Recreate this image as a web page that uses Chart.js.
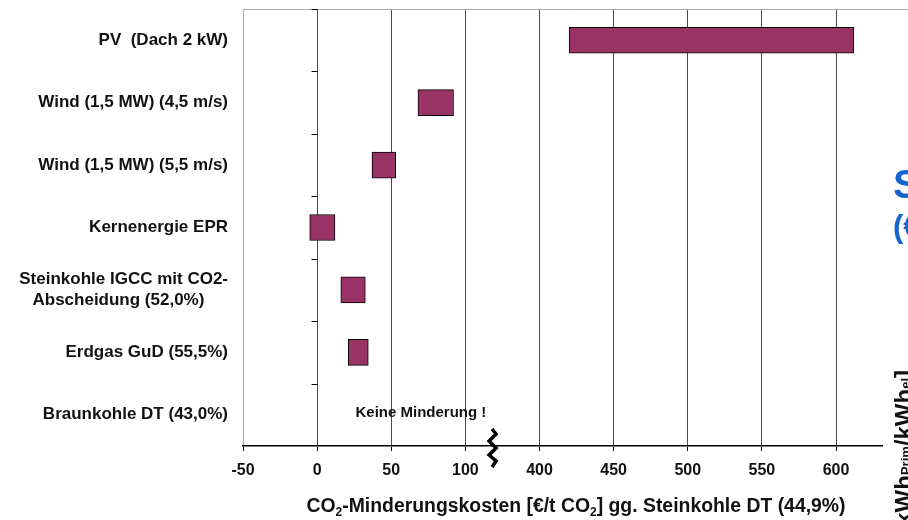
<!DOCTYPE html>
<html>
<head>
<meta charset="utf-8">
<script src="https://cdn.jsdelivr.net/npm/chart.js@4"></script>
<style>
  html, body { margin: 0; padding: 0; background: #fff; overflow: hidden; }
  #wrap { position: relative; width: 908px; height: 520px; overflow: hidden; }
  #chart { position: absolute; left: 0; top: 0; }
  .side { position: absolute; font-family: "Liberation Sans", Arial, sans-serif; font-weight: bold; white-space: nowrap; }
  .blue { color: #1466cc; }
  .unit { writing-mode: vertical-rl; transform: rotate(180deg); font-size: 24px; color: #111; }
  .unit sub { font-size: 13px; vertical-align: -2px; }
</style>
</head>
<body>
<div id="wrap">
  <canvas id="chart" width="908" height="520"></canvas>
  <div class="side blue" style="left:893px; top:162px; font-size:40px;">S</div>
  <div class="side blue" style="left:893px; top:209px; font-size:31px;">(€</div>
  <div class="side unit" style="left:890px; top:370px;">[kWh<sub>Prim</sub>/kWh<sub>el</sub>]</div>
</div>
<script>
// CO2-Minderungskosten gegenüber Steinkohle DT (44,9%)
const categories = [
    "PV  (Dach 2 kW)",
    "Wind (1,5 MW) (4,5 m/s)",
    "Wind (1,5 MW) (5,5 m/s)",
    "Kernenergie EPR",
    ["Steinkohle IGCC mit CO2-", "Abscheidung (52,0%)     "],
    "Erdgas GuD (55,5%)",
    "Braunkohle DT (43,0%)",
];
const costMin = [420, 68, 37, -5, 16, 21, null];
const costMax = [612, 92, 53, 12, 32.5, 34.5, null];
const tickValues = [-50, 0, 50, 100, 400, 450, 500, 550, 600];
const noReductionText = "Keine Minderung !";
const noReductionAt = 70;
// title pieces: [text, subscript?]
const titleParts = [
    ["CO", false], ["2", true], ["-Minderungskosten [€/t CO", false], ["2", true],
    ["] gg. Steinkohle DT (44,9%)", false],
];

// axis break: 100..400 squeezed into one 50-step
const BREAK_LOW = 100;
const BREAK_HIGH = 400;
const toAxis = (v) => (v <= BREAK_LOW ? v : v - (BREAK_HIGH - BREAK_LOW) + 50);
const fromAxis = (t) => (t <= BREAK_LOW ? t : t + (BREAK_HIGH - BREAK_LOW) - 50);

const FONT = "'Liberation Sans', Arial, sans-serif";

const decor = {
    id: "decor",
    afterDraw(chart) {
        const { ctx, chartArea, scales } = chart;
        const x = scales.x;
        const y = scales.y;
        ctx.save();

        // top frame line
        ctx.strokeStyle = "#aaa";
        ctx.lineWidth = 1;
        ctx.beginPath();
        ctx.moveTo(chartArea.left, chartArea.top + 0.5);
        ctx.lineTo(chart.width, chartArea.top + 0.5);
        ctx.stroke();

        // category ticks on the zero line
        const x0 = Math.round(x.getPixelForValue(0)) + 0.5;
        const step = y.getPixelForValue(1) - y.getPixelForValue(0);
        ctx.strokeStyle = "#000";
        ctx.beginPath();
        for (let i = 0; i < categories.length; i++) {
            const py = Math.round(y.getPixelForValue(i) - step / 2) + 0.5;
            ctx.moveTo(x0 - 6, py);
            ctx.lineTo(x0, py);
        }
        ctx.stroke();

        // break mark
        const bx = x.getPixelForValue(118);
        const by = chartArea.bottom;
        const pts = [[0, -17], [4, -12], [-3, -5], [4, 2], [-3, 9], [4, 15], [0, 21]];
        ctx.lineJoin = "miter";
        ctx.strokeStyle = "#000";
        ctx.lineWidth = 3.5;
        ctx.beginPath();
        pts.forEach(([dx, dy], i) => {
            if (i === 0) ctx.moveTo(bx + dx, by + dy);
            else ctx.lineTo(bx + dx, by + dy);
        });
        ctx.stroke();

        // annotation
        ctx.fillStyle = "#111";
        ctx.font = "bold 15px " + FONT;
        ctx.textAlign = "center";
        ctx.textBaseline = "middle";
        ctx.fillText(noReductionText, x.getPixelForValue(noReductionAt), y.getPixelForValue(6) - 2);

        // axis title with real subscripts
        const big = "bold 19.4px " + FONT;
        const small = "bold 12px " + FONT;
        let total = 0;
        titleParts.forEach(([t, sub]) => {
            ctx.font = sub ? small : big;
            total += ctx.measureText(t).width;
        });
        let tx = 576 - total / 2;
        const ty = 512;
        ctx.textAlign = "left";
        ctx.textBaseline = "alphabetic";
        titleParts.forEach(([t, sub]) => {
            ctx.font = sub ? small : big;
            ctx.fillText(t, tx, sub ? ty + 4 : ty);
            tx += ctx.measureText(t).width;
        });
        ctx.restore();
    },
};

new Chart(document.getElementById("chart"), {
    type: "bar",
    data: {
        labels: categories,
        datasets: [
            {
                data: costMin.map((v, i) => (v === null ? null : [toAxis(v), toAxis(costMax[i])])),
                backgroundColor: "#993366",
                borderColor: "#000",
                borderWidth: 1,
                borderSkipped: false,
                barThickness: 26,
            },
        ],
    },
    options: {
        indexAxis: "y",
        responsive: false,
        animation: false,
        layout: { padding: { top: 9, right: 26, left: 0, bottom: 0 } },
        plugins: { legend: { display: false }, tooltip: { enabled: false } },
        scales: {
            x: {
                type: "linear",
                min: -50,
                max: toAxis(631),
                afterBuildTicks: (axis) => {
                    axis.ticks = tickValues.map((v) => ({ value: toAxis(v) }));
                },
                afterFit: (axis) => {
                    axis.height = 74;
                    axis.paddingLeft = 0;
                    axis.paddingRight = 0;
                },
                grid: {
                    color: (c) => (c.tick && c.tick.value === -50 ? "#aaa" : "#4a4a4a"),
                    tickColor: "#000",
                    tickLength: 5,
                },
                border: { color: "#000", width: 1.5 },
                ticks: {
                    color: "#111",
                    font: { family: FONT, size: 16, weight: "bold" },
                    padding: 10,
                    autoSkip: false,
                    maxRotation: 0,
                    callback: (value) => fromAxis(value),
                },
            },
            y: {
                type: "category",
                afterFit: (axis) => {
                    axis.width = 243;
                    axis.paddingTop = 0;
                    axis.paddingBottom = 0;
                },
                grid: { display: false },
                border: { display: false },
                ticks: {
                    color: "#111",
                    font: { family: FONT, size: 17, weight: "bold" },
                    padding: 7,
                },
            },
        },
    },
    plugins: [decor],
});
</script>
</body>
</html>
